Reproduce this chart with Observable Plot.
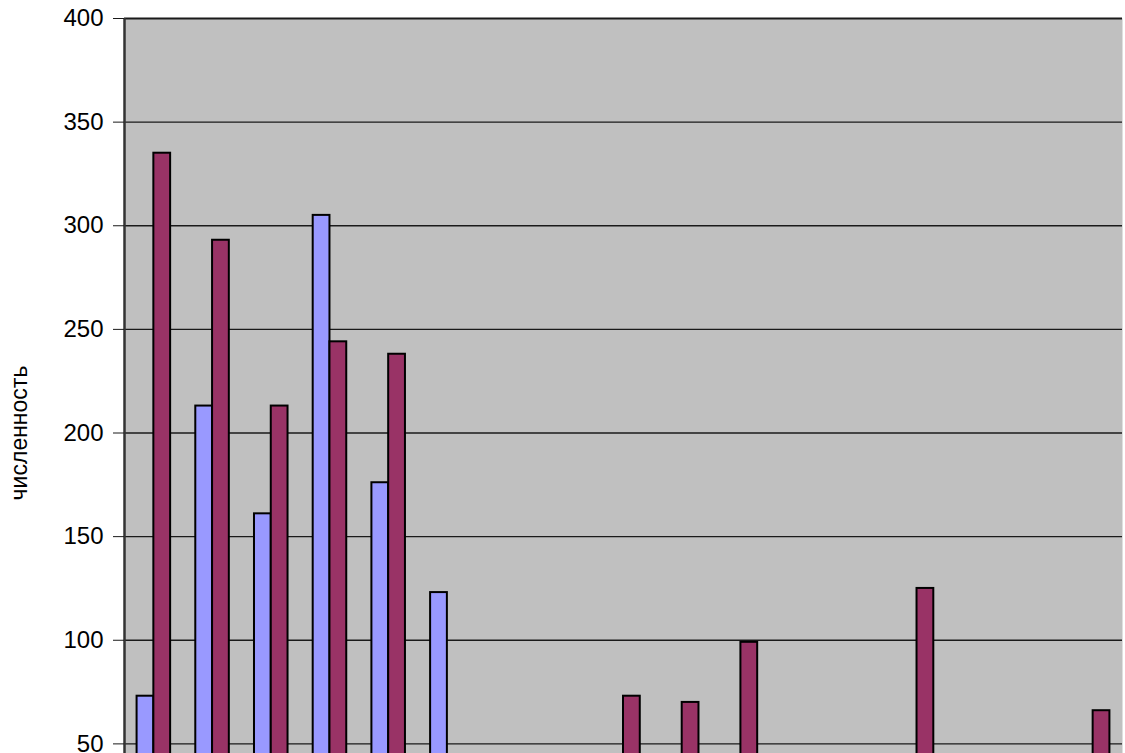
<!DOCTYPE html>
<html>
<head>
<meta charset="utf-8">
<script src="https://cdn.jsdelivr.net/npm/d3@7"></script>
<script src="https://cdn.jsdelivr.net/npm/@observablehq/plot@0.6"></script>
<style>
  html, body { margin: 0; padding: 0; background: #fff; overflow: hidden; }
  #chart { position: relative; width: 1125px; height: 753px; overflow: hidden; }
  #chart svg { position: absolute; left: 0; top: 0; }
</style>
</head>
<body>
<div id="chart"></div>
<script>
// Categories along the x axis (17 groups)
const categories = ["1", "2", "3", "4", "5", "6", "7", "8", "9", "10", "11", "12", "13", "14", "15", "16", "17"];
// The two series of each group
const series = ["ряд 1", "ряд 2"];
const valuesA = [73, 213, 161, 305, 176, 123, null, null, null, null, null, null, null, null, null, null, null];
const valuesB = [335, 293, 213, 244, 238, null, null, null, 73, 70, 99, null, null, 125, null, null, 66];
// Y axis ticks and title
const yTicks = [50, 100, 150, 200, 250, 300, 350, 400];
const yLabel = "численность";

const W = 1125, H = 900;
const margins = {marginTop: 18, marginRight: 3, marginBottom: 53, marginLeft: 124};
const font = '"Liberation Sans", Arial, sans-serif';

// Background layer: grey plot area, gridlines, axis line, ticks and title
const base = Plot.plot({
  width: W, height: H, ...margins,
  style: {fontFamily: font, fontSize: "24px", color: "#000", background: "#fff"},
  x: {domain: [0, 1], axis: null},
  y: {domain: [0, 400], axis: null},
  marks: [
    Plot.frame({fill: "#c0c0c0", stroke: null}),
    Plot.ruleY(yTicks.filter(v => v < 400), {stroke: "#1a1a1a", strokeWidth: 1.3}),
    Plot.ruleY([400], {stroke: "#1a1a1a", strokeWidth: 2}),
    Plot.ruleX([0], {stroke: "#333", strokeWidth: 2.5}),
    Plot.axisY(yTicks, {tickSize: 11, tickPadding: 10, label: null, fontSize: 24, stroke: "#1a1a1a", fill: "#000"}),
    Plot.text([yLabel], {text: d => d, frameAnchor: "left", textAnchor: "middle", rotate: -90, dx: -105, fontSize: 23, fill: "#000"})
  ]
});

// Bars layer: grouped bars, one facet per category
const rows = categories.flatMap((c, i) => [
  {cat: c, s: series[0], v: valuesA[i]},
  {cat: c, s: series[1], v: valuesB[i]}
]).filter(d => d.v != null);

const bars = Plot.plot({
  width: W, height: H, ...margins,
  style: {background: "transparent"},
  fx: {domain: categories, paddingInner: 0, paddingOuter: 0, round: false, axis: null, label: null},
  x: {domain: series, paddingInner: 0, paddingOuter: 0.75, round: false, axis: null},
  y: {domain: [0, 400], axis: null},
  color: {domain: series, range: ["#9999ff", "#993366"]},
  marks: [
    Plot.barY(rows, {fx: "cat", x: "s", y: "v", fill: "s", stroke: "#000", strokeWidth: 2})
  ]
});

const chart = document.getElementById("chart");
chart.append(base, bars);
</script>
</body>
</html>
